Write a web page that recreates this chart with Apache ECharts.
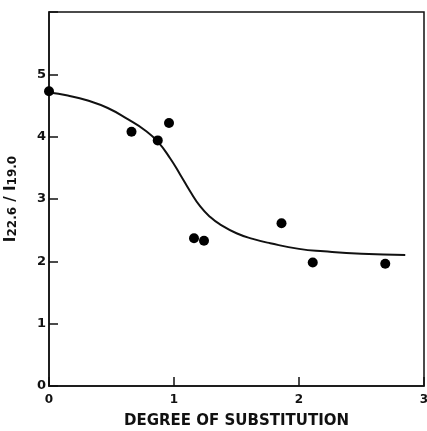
<!DOCTYPE html>
<html>
<head>
<meta charset="utf-8">
<script src="https://cdn.jsdelivr.net/npm/echarts@6/dist/echarts.min.js"></script>
<style>html,body{margin:0;padding:0;background:#fff}#c{width:427px;height:431px}</style>
</head>
<body>
<div id="c"></div>
<script>
// measured points: [degree of substitution, I22.6/I19.0]
var pointsX = [0.0, 0.66, 0.87, 0.96, 1.16, 1.24, 1.86, 2.11, 2.69];
var pointsY = [4.73, 4.08, 3.94, 4.22, 2.37, 2.33, 2.61, 1.98, 1.96];
// fitted curve
var curveX = [0.0, 0.15, 0.31, 0.47, 0.63, 0.77, 0.87, 0.97, 1.05, 1.13, 1.21, 1.29, 1.37, 1.50, 1.63, 1.77, 2.0, 2.2, 2.5, 2.85];
var curveY = [4.71, 4.66, 4.58, 4.46, 4.28, 4.10, 3.92, 3.65, 3.39, 3.12, 2.88, 2.71, 2.59, 2.45, 2.36, 2.29, 2.20, 2.16, 2.12, 2.10];
var xTicks = ['0', '1', '2', '3'];
var yTicks = ['0', '1', '2', '3', '4', '5'];

var pts = pointsX.map(function (x, i) { return [x, pointsY[i]]; });
var crv = curveX.map(function (x, i) { return [x, curveY[i]]; });

var chart = echarts.init(document.getElementById('c'));
chart.setOption({
  animation: false,
  grid: { left: 49, right: 3, top: 12, bottom: 45, containLabel: false, outerBoundsMode: 'none',
    show: true, borderColor: '#111', borderWidth: 1.5, backgroundColor: 'transparent' },
  xAxis: {
    type: 'value', min: 0, max: 3, interval: 1,
    name: 'DEGREE OF SUBSTITUTION', nameLocation: 'middle', nameGap: 28,
    nameTextStyle: { fontFamily: 'DejaVu Sans', fontWeight: 'bold', fontSize: 15, color: '#111' },
    axisLine: { show: true, lineStyle: { color: '#111', width: 1.5 } },
    axisTick: { show: true, inside: true, length: 9, lineStyle: { color: '#111', width: 1.5 } },
    axisLabel: { margin: 8, fontFamily: 'DejaVu Sans', fontWeight: 'bold', fontSize: 12, color: '#111',
      formatter: function (v) { return xTicks[Math.round(v)] || ''; } },
    splitLine: { show: false }
  },
  yAxis: {
    type: 'value', min: 0, max: 6, interval: 1,
    name: '{m|I}{s|22.6}{m| / I}{s|19.0}', nameLocation: 'middle', nameGap: 30, nameRotate: 90,
    nameTextStyle: {
      color: '#111',
      rich: {
        m: { fontFamily: 'DejaVu Sans', fontWeight: 'bold', fontSize: 15, color: '#111', verticalAlign: 'bottom' },
        s: { fontFamily: 'DejaVu Sans', fontWeight: 'bold', fontSize: 12, color: '#111', verticalAlign: 'bottom', padding: [6, 0, 0, 0] }
      }
    },
    axisLine: { show: true, lineStyle: { color: '#111', width: 1.5 } },
    axisTick: { show: true, inside: true, length: 9, lineStyle: { color: '#111', width: 1.5 } },
    axisLabel: { margin: 3, fontFamily: 'DejaVu Sans', fontWeight: 'bold', fontSize: 13, color: '#111',
      formatter: function (v) { return yTicks[Math.round(v)] || ''; } },
    splitLine: { show: false }
  },
  series: [
    { type: 'line', data: crv, smooth: 0.5, showSymbol: false, symbol: 'none',
      lineStyle: { color: '#111', width: 2 }, z: 2 },
    { type: 'scatter', data: pts, symbol: 'circle', symbolSize: 10,
      itemStyle: { color: '#000', opacity: 1 }, z: 3 }
  ]
});
</script>
</body>
</html>
